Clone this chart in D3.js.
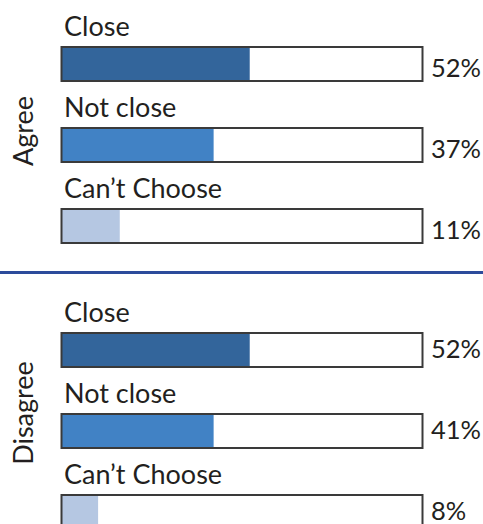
<!DOCTYPE html>
<html>
<head>
<meta charset="utf-8">
<script src="https://cdn.jsdelivr.net/npm/d3@7"></script>
<style>
  html, body { margin: 0; padding: 0; background: #fff; }
  svg { display: block; }
  text { font-family: Lato, "Open Sans", sans-serif; fill: #231f20; }
</style>
</head>
<body>
<div id="chart"></div>
<script>
// ---- data ----
const sections = ["Agree", "Disagree"];
const categories = ["Close", "Not close", "Can’t Choose"];
// bar lengths as drawn in the picture (percent of full box)
const agreeBars = [52, 42, 16];
const disagreeBars = [52, 42, 10];
// printed value labels
const agreeLabels = ["52%", "37%", "11%"];
const disagreeLabels = ["52%", "41%", "8%"];
const colors = ["#33659b", "#4182c5", "#b5c7e2"];

const W = 483, H = 524;
const svg = d3.select("#chart").append("svg").attr("width", W).attr("height", H);

const x = d3.scaleLinear().domain([0, 100]).range([62, 423]);
const sectionTop = d3.scalePoint().domain(sections).range([47, 333]);
const row = d3.scalePoint().domain(categories).range([0, 162]);
const barH = 34;
const fs = 27;
const pctFs = 25.5;
const pctOffset = { "Agree": 30, "Disagree": 25 };

const data = [
  { section: "Agree", bars: agreeBars, labels: agreeLabels },
  { section: "Disagree", bars: disagreeBars, labels: disagreeLabels }
];

data.forEach(sec => {
  const g = svg.append("g").attr("transform", `translate(0,${sectionTop(sec.section)})`);

  // rotated section label
  g.append("text")
    .attr("transform", `translate(33,${sec.section === "Agree" ? 84 : 80}) rotate(-90)`)
    .attr("text-anchor", "middle")
    .attr("font-size", fs)
    .text(sec.section);

  categories.forEach((c, i) => {
    const y = row(c);
    g.append("text")
      .attr("x", 64)
      .attr("y", y - 11)
      .attr("font-size", fs)
      .text(c);
    g.append("rect")
      .attr("x", x(0))
      .attr("y", y)
      .attr("width", x(sec.bars[i]) - x(0))
      .attr("height", barH)
      .attr("fill", colors[i]);
    g.append("rect")
      .attr("x", x(0) - 0.5)
      .attr("y", y)
      .attr("width", x(100) - x(0))
      .attr("height", barH)
      .attr("fill", "none")
      .attr("stroke", "#3a3a3a")
      .attr("stroke-width", 2);
    g.append("text")
      .attr("x", 431)
      .attr("y", y + pctOffset[sec.section])
      .attr("font-size", pctFs)
      .text(sec.labels[i]);
  });
});

// separator line
svg.append("line")
  .attr("x1", 0).attr("x2", W)
  .attr("y1", 272.5).attr("y2", 272.5)
  .attr("stroke", "#2c4b9b")
  .attr("stroke-width", 3);
</script>
</body>
</html>
